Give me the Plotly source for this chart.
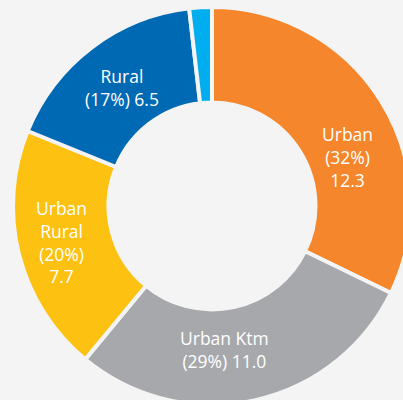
import plotly.graph_objects as go

labels = ["Urban", "Urban Ktm", "Urban Rural", "Rural", "Other"]
values = [12.3, 11.0, 7.7, 6.5, 0.7]
texts = [
    "Urban<br>(32%)<br>12.3",
    "Urban Ktm<br>(29%) 11.0",
    "Urban<br>Rural<br>(20%)<br>7.7",
    "Rural<br>(17%) 6.5",
    "",
]
colors = ["#F5862B", "#A7A8AB", "#FDC111", "#0069B4", "#00AEEF"]
bg = "#F4F4F4"

# label placement (pixels): centre x, first-line baseline y, last-line baseline y
label_pos = [(347, 141.7, 185.0), (224.5, 345.7, 367.5), (61.7, 216.0, 281.3), (122, 83.3, 104.5), None]
FS = 17.5

W, H = 420, 410
fig = go.Figure(go.Pie(
    labels=labels,
    values=values,
    textinfo="none",
    hole=0.52,
    sort=False,
    direction="clockwise",
    rotation=0,
    marker=dict(colors=colors, line=dict(color=bg, width=4)),
    domain=dict(x=[13 / W, 411 / W], y=[5 / H, 403 / H]),
    showlegend=False,
    hoverinfo="label+value",
))

annotations = []
for txt, pos in zip(texts, label_pos):
    if not txt or pos is None:
        continue
    cx, b0, b1 = pos
    # centre of the text block, baseline-based estimate
    cy = (b0 + b1) / 2 - 0.388 * FS
    annotations.append(dict(
        x=cx / W, y=1 - cy / H, xref="paper", yref="paper",
        xanchor="center", yanchor="middle", showarrow=False,
        text=txt, font=dict(family="Open Sans", size=FS, color="white"),
    ))

fig.update_layout(
    width=W, height=H,
    margin=dict(l=0, r=0, t=0, b=0),
    paper_bgcolor=bg, plot_bgcolor=bg,
    annotations=annotations,
)
fig.write_html(
    "out.html",
    config={"displayModeBar": False},
    post_script="document.body.style.margin='0';document.body.style.overflow='hidden';document.documentElement.style.overflow='hidden';document.body.style.background='" + bg + "';",
)
